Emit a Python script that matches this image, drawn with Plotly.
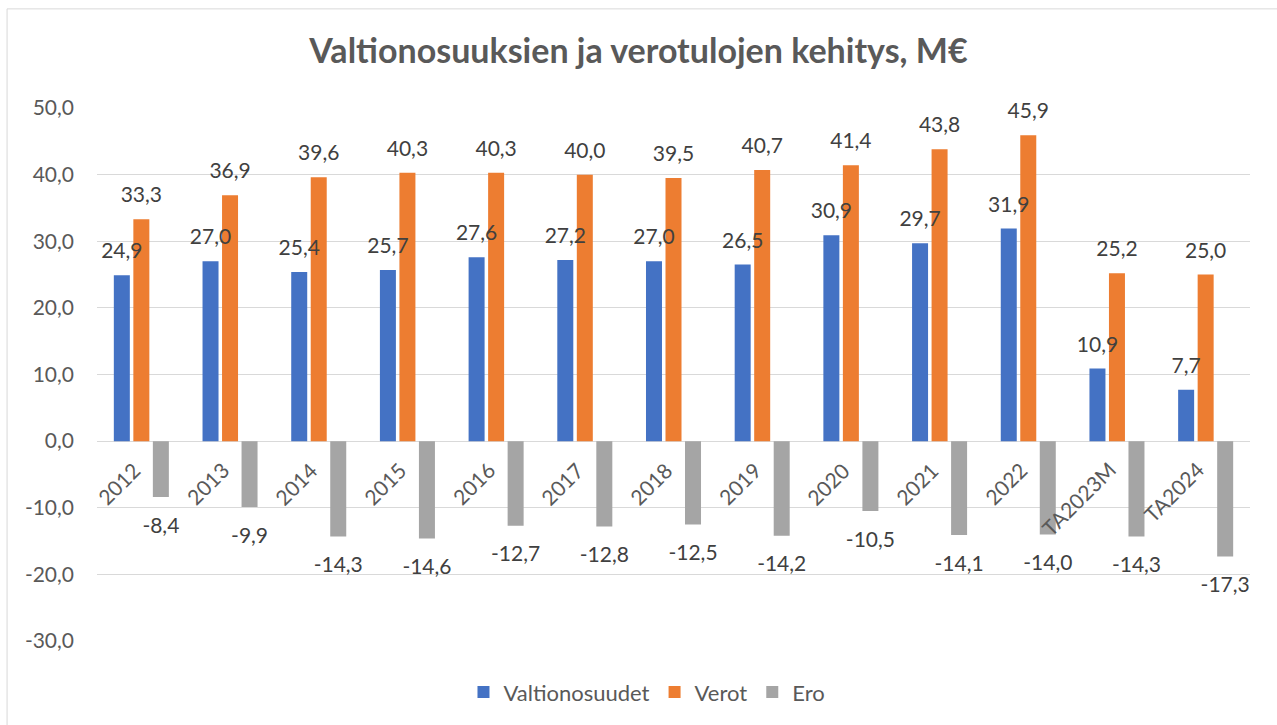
import plotly.graph_objects as go

# ----------------# Données

vuodet = ["2012", "2013", "2014", "2015", "2016", "2017", "2018", "2019",
          "2020", "2021", "2022", "TA2023M", "TA2024"]
valtionosuudet = [24.9, 27.0, 25.4, 25.7, 27.6, 27.2, 27.0, 26.5, 30.9, 29.7, 31.9, 10.9, 7.7]
verot = [33.3, 36.9, 39.6, 40.3, 40.3, 40.0, 39.5, 40.7, 41.4, 43.8, 45.9, 25.2, 25.0]
ero = [-8.4, -9.9, -14.3, -14.6, -12.7, -12.8, -12.5, -14.2, -10.5, -14.1, -14.0, -14.3, -17.3]
y_ticks = [-30, -20, -10, 0, 10, 20, 30, 40, 50]

FONT = "Lato"
GRIS_TEXTE = "#595959"
GAP = 0.34

series = [("Valtionosuudet", valtionosuudet, "#4472C4"),
          ("Verot", verot, "#ED7D31"),
          ("Ero", ero, "#A5A5A5")]


def fmt(v):
    # virgule décimale et tiret simple, comme dans Excel
    return f"{v:.1f}".replace(".", ",")


fig = go.Figure()

# ----------------# Barres

for nom, vals, coul in series:
    fig.add_trace(go.Bar(
        x=vuodet, y=vals, name=nom, offsetgroup=nom,
        marker=dict(color=coul, line=dict(width=0)),
    ))

# ----------------# Étiquettes de données (au-dessus de toutes les barres)

for nom, vals, coul in series:
    fig.add_trace(go.Scatter(
        x=vuodet, y=vals, offsetgroup=nom, mode="markers+text",
        text=[fmt(v) for v in vals],
        textposition=["top center" if v >= 0 else "bottom center" for v in vals],
        textfont=dict(family=FONT, size=21, color="#404040"),
        marker=dict(size=[17 if v >= 0 else 30 for v in vals],
                    opacity=0, line=dict(width=0)),
        showlegend=False, hoverinfo="skip", cliponaxis=False,
    ))

# étiquettes des catégories, inclinées, sous la ligne du zéro
for i, v in enumerate(vuodet):
    fig.add_annotation(
        x=i, y=0, xref="x", yref="y", text=v, showarrow=False,
        textangle=-45, xanchor="right", yanchor="top", xshift=6, yshift=-13,
        font=dict(family=FONT, size=21, color=GRIS_TEXTE),
    )

fig.add_shape(type="line", xref="paper", yref="paper", x0=-0.078, x1=1.03,
              y0=1.186, y1=1.186, line=dict(color="#d9d9d9", width=1))
fig.add_shape(type="line", xref="paper", yref="paper", x0=-0.078, x1=-0.078,
              y0=1.186, y1=-0.2, line=dict(color="#d9d9d9", width=1))

fig.update_layout(
    width=1277, height=725,
    margin=dict(l=97, r=27, t=108, b=84),
    paper_bgcolor="white", plot_bgcolor="white",
    barmode="group", bargap=GAP, bargroupgap=0.18,
    scattermode="group", scattergap=GAP,
    title=dict(text="<b>Valtionosuuksien ja verotulojen kehitys, M€</b>",
               x=0.5, xanchor="center", y=0.93, yanchor="middle",
               font=dict(family=FONT, size=34, color=GRIS_TEXTE)),
    font=dict(family=FONT, size=21, color=GRIS_TEXTE),
    xaxis=dict(type="category", range=[-0.5, 12.5], showticklabels=False,
               showgrid=False, zeroline=False, showline=False),
    yaxis=dict(range=[-30, 50], tickmode="array", tickvals=y_ticks,
               ticktext=[fmt(t) for t in y_ticks],
               showgrid=True, gridcolor="#d9d9d9", gridwidth=1,
               zeroline=True, zerolinecolor="#d9d9d9", zerolinewidth=1,
               ticks="", ticklabelstandoff=22,
               tickfont=dict(family=FONT, size=21, color=GRIS_TEXTE)),
    legend=dict(orientation="h", x=0.477, xanchor="center", y=-0.096, yanchor="middle",
                font=dict(family=FONT, size=22, color=GRIS_TEXTE),
                itemwidth=30, traceorder="normal"),
)

fig.write_html("out.html", config={"displayModeBar": False},
               post_script="document.body.style.margin='0';")
